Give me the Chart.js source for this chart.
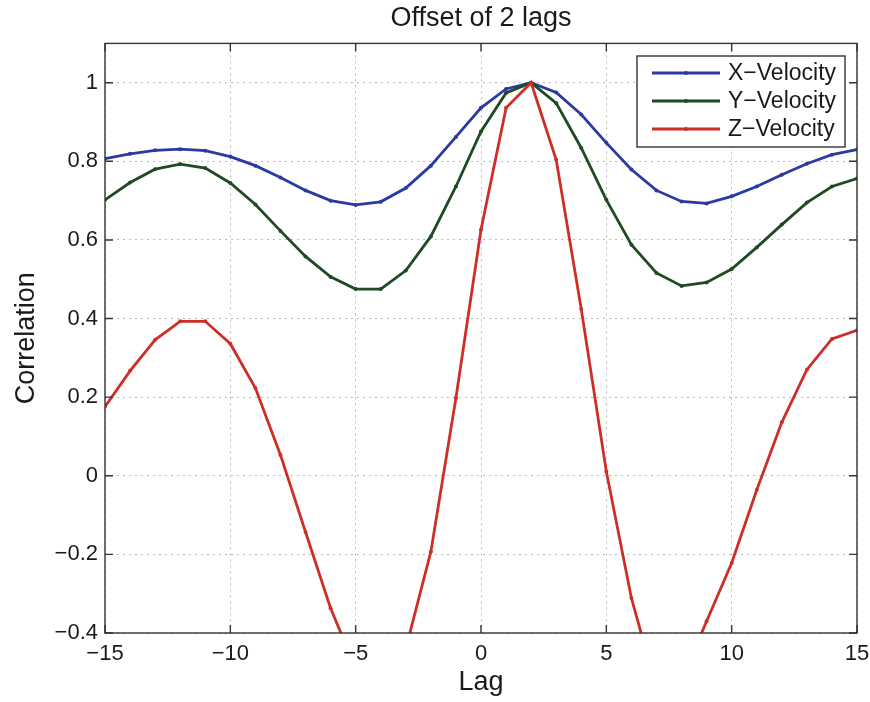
<!DOCTYPE html>
<html>
<head>
<meta charset="utf-8">
<title>Offset of 2 lags</title>
<script src="https://cdn.jsdelivr.net/npm/chart.js@4.4.1/dist/chart.umd.min.js"></script>
<style>
  html, body { margin: 0; padding: 0; background: #fff; }
  #wrap { width: 870px; height: 702px; }
</style>
</head>
<body>
<div id="wrap"><canvas id="grafico" width="870" height="702"></canvas></div>
<script>
// ======= DADOS =======
const lags = [-15, -14, -13, -12, -11, -10, -9, -8, -7, -6, -5, -4, -3, -2, -1, 0,
  1, 2, 3, 4, 5, 6, 7, 8, 9, 10, 11, 12, 13, 14, 15];

const xVelocity = [0.807, 0.819, 0.828, 0.831, 0.827, 0.812, 0.789, 0.759, 0.726, 0.700, 0.689, 0.697, 0.732, 0.789, 0.862, 0.936,
  0.984, 1.000, 0.975, 0.919, 0.847, 0.779, 0.726, 0.698, 0.693, 0.711, 0.736, 0.766, 0.794, 0.817, 0.830];

const yVelocity = [0.702, 0.746, 0.780, 0.793, 0.783, 0.745, 0.690, 0.623, 0.558, 0.506, 0.475, 0.475, 0.522, 0.609, 0.736, 0.876,
  0.974, 1.000, 0.948, 0.834, 0.702, 0.588, 0.516, 0.483, 0.492, 0.526, 0.581, 0.639, 0.695, 0.736, 0.756];

const zVelocity = [0.176, 0.267, 0.346, 0.393, 0.393, 0.336, 0.223, 0.053, -0.143, -0.337, -0.49, -0.56, -0.44, -0.193, 0.198, 0.626,
  0.936, 1.000, 0.804, 0.424, 0.011, -0.311, -0.54, -0.52, -0.37, -0.222, -0.036, 0.136, 0.270, 0.348, 0.370];

const seriesLabels = ["X\u2212Velocity", "Y\u2212Velocity", "Z\u2212Velocity"];
const xTicks = [-15, -10, -5, 0, 5, 10, 15];
const yTicks = [-0.4, -0.2, 0, 0.2, 0.4, 0.6, 0.8, 1];

// ======= ESTILO =======
const FONTE = "'Liberation Sans', Arial, Helvetica, sans-serif";
const cores = ["#2b3aa0", "#1f4a22", "#cc2f27"];

function pontos(valores) {
  return lags.map((l, i) => ({ x: l, y: valores[i] }));
}

function comMenos(v) {
  return String(v).replace("-", "\u2212");
}

function rotuloY(v) {
  const r = Math.round(v * 10) / 10;
  if (r === 0) return "0";
  if (r === 1) return "1";
  return comMenos(r.toFixed(1));
}

function serie(label, valores, cor, ordem) {
  return {
    label,
    data: pontos(valores),
    borderColor: cor,
    backgroundColor: cor,
    borderWidth: 2.8,
    pointRadius: 2,
    pointBorderWidth: 0,
    pointBackgroundColor: cor,
    tension: 0,
    order: ordem,
  };
}

// moldura, ticks internos e legenda no estilo MATLAB
const moldura = {
  id: "moldura",
  afterDraw(chart) {
    const { ctx, chartArea: a, scales } = chart;
    const sx = scales.x, sy = scales.y;
    ctx.save();
    ctx.strokeStyle = "#333";
    ctx.lineWidth = 1.4;
    ctx.strokeRect(a.left, a.top, a.right - a.left, a.bottom - a.top);

    ctx.beginPath();
    sx.ticks.forEach((t) => {
      const px = sx.getPixelForValue(t.value);
      ctx.moveTo(px, a.bottom); ctx.lineTo(px, a.bottom - 8);
      ctx.moveTo(px, a.top); ctx.lineTo(px, a.top + 8);
    });
    sy.ticks.forEach((t) => {
      const py = sy.getPixelForValue(t.value);
      ctx.moveTo(a.left, py); ctx.lineTo(a.left + 8, py);
      ctx.moveTo(a.right, py); ctx.lineTo(a.right - 8, py);
    });
    ctx.stroke();

    // legenda
    const lx = 637, ly = 56, lw = 208, lh = 91;
    ctx.fillStyle = "#fff";
    ctx.fillRect(lx, ly, lw, lh);
    ctx.strokeRect(lx, ly, lw, lh);
    ctx.font = "23px " + FONTE;
    ctx.textBaseline = "middle";
    ctx.textAlign = "left";
    chart.data.datasets.forEach((ds, i) => {
      const cy = ly + 17 + i * 28;
      ctx.strokeStyle = ds.borderColor;
      ctx.lineWidth = 2.8;
      ctx.beginPath();
      ctx.moveTo(lx + 15, cy); ctx.lineTo(lx + 83, cy);
      ctx.stroke();
      ctx.fillStyle = ds.borderColor;
      ctx.beginPath();
      ctx.arc(lx + 49, cy, 2, 0, Math.PI * 2);
      ctx.fill();
      ctx.fillStyle = "#1a1a1a";
      ctx.fillText(ds.label, lx + 91, cy + 1);
    });
    ctx.restore();
  },
};

const ctx = document.getElementById("grafico").getContext("2d");

new Chart(ctx, {
  type: "line",
  data: {
    datasets: [
      serie(seriesLabels[0], xVelocity, cores[0], 3),
      serie(seriesLabels[1], yVelocity, cores[1], 2),
      serie(seriesLabels[2], zVelocity, cores[2], 1),
    ],
  },
  options: {
    responsive: false,
    animation: false,
    devicePixelRatio: 1,
    layout: { padding: { left: 0, right: 13, top: 0, bottom: 0 } },
    plugins: {
      legend: { display: false },
      tooltip: { enabled: false },
      title: {
        display: true,
        text: "Offset of 2 lags",
        fullSize: false,
        color: "#1a1a1a",
        font: { family: FONTE, size: 27, weight: "normal" },
        padding: { top: 2, bottom: 9 },
      },
    },
    scales: {
      x: {
        type: "linear",
        min: -15,
        max: 15,
        afterBuildTicks: (s) => { s.ticks = xTicks.map((v) => ({ value: v })); },
        afterFit: (s) => { s.height = 69; },
        grid: { color: "#b8b8b8", lineWidth: 1, drawTicks: true, tickLength: 8, tickColor: "rgba(0,0,0,0)" },
        border: { display: false, dash: [2, 4] },
        ticks: {
          padding: 0,
          color: "#1a1a1a",
          font: { family: FONTE, size: 22 },
          callback: (v) => comMenos(v),
        },
        title: {
          display: true,
          text: "Lag",
          color: "#1a1a1a",
          font: { family: FONTE, size: 27 },
          padding: { top: 0, bottom: 3 },
        },
      },
      y: {
        type: "linear",
        min: -0.4,
        max: 1.1,
        afterBuildTicks: (s) => { s.ticks = yTicks.map((v) => ({ value: v })); },
        afterFit: (s) => { s.width = 105; },
        grid: { color: "#b8b8b8", lineWidth: 1, drawTicks: false },
        border: { display: false, dash: [2, 4] },
        ticks: {
          padding: 7,
          color: "#1a1a1a",
          font: { family: FONTE, size: 22 },
          callback: (v) => rotuloY(v),
        },
        title: {
          display: true,
          text: "Correlation",
          color: "#1a1a1a",
          font: { family: FONTE, size: 27 },
          padding: { top: 10, bottom: 0 },
        },
      },
    },
  },
  plugins: [moldura],
});
</script>
</body>
</html>
